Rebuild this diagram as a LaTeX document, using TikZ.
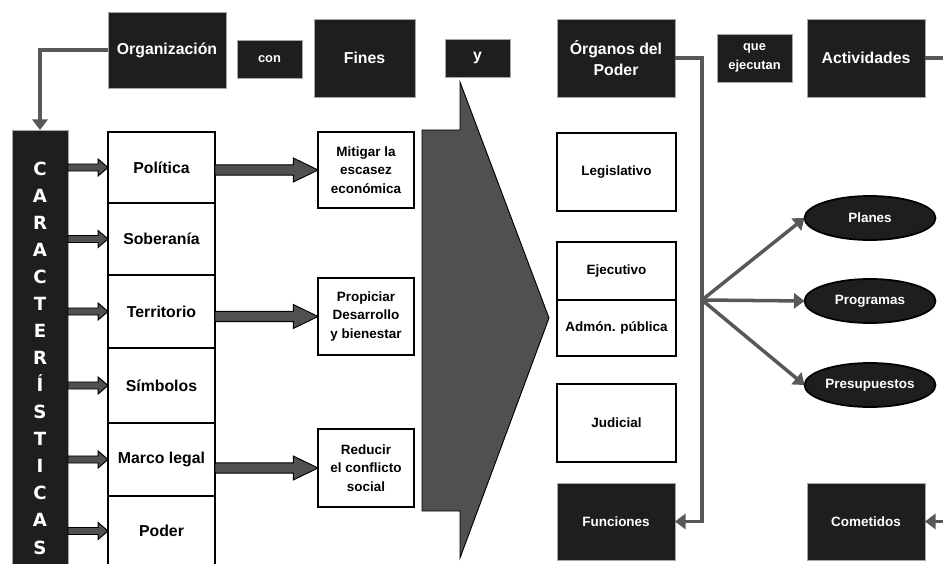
\documentclass[tikz,border=0pt]{standalone}
\usepackage{fontspec}
\setmainfont{Liberation Sans}
\newfontfamily\carfont{DejaVu Sans}
\usetikzlibrary{arrows.meta,shapes.geometric,calc}
\definecolor{boxblack}{RGB}{30,30,30}
\definecolor{linegray}{RGB}{88,88,88}
\definecolor{arrgray}{RGB}{80,80,80}
\begin{document}
\begin{tikzpicture}[x=0.03cm,y=-0.03cm,
  every node/.style={inner sep=0pt, outer sep=0pt, align=center, font=\bfseries\fontsize{11.5}{16}\selectfont},
  bigfont/.style={font=\bfseries\fontsize{13.5}{18}\selectfont},
  smallfont/.style={font=\bfseries\fontsize{11}{16}\selectfont},
  darkbox/.style={fill=boxblack, draw=gray!70, line width=0.8pt, text=white},
  litebox/.style={fill=white, draw=black, line width=1.6pt},
  goalbox/.style={fill=white, draw=black, line width=2.2pt},
  oval/.style={ellipse, fill=boxblack, draw=black, line width=1.5pt, text=white, minimum width=3.93cm, minimum height=1.32cm},
  link/.style={draw=linegray, line width=3pt, -{Triangle[width=13pt,length=9pt]}},
  blockarrow/.style n args={3}{draw=black, fill=arrgray, line width=0.8pt,
    to path={let \p1=(\tikztostart), \p2=(\tikztotarget) in
      (\x1,\y1+#1) -- (\x2-#3,\y1+#1) -- (\x2-#3,\y1+#2) -- (\x2,\y1)
      -- (\x2-#3,\y1-#2) -- (\x2-#3,\y1-#1) -- (\x1,\y1-#1) -- cycle}},
  smallarrow/.style={blockarrow={3pt}{7.3pt}{8.5pt}},
  bigarrow/.style={blockarrow={4.3pt}{10.2pt}{21pt}}]
\useasboundingbox (0,0) rectangle (943,564);
\node[darkbox, bigfont, minimum width=3.54cm, minimum height=2.28cm] (org) at (167,50) {Organización};
\node[darkbox, smallfont, minimum width=1.95cm, minimum height=1.14cm] (con) at (269.5,59) {con};
\node[darkbox, bigfont, minimum width=3.03cm, minimum height=2.34cm] (fines) at (364.5,58) {Fines};
\node[darkbox, bigfont, minimum width=1.95cm, minimum height=1.14cm] (yy) at (477.5,58) {y};
\node[darkbox, bigfont, minimum width=3.54cm, minimum height=2.34cm] (organos) at (616,58) {Órganos del\\Poder};
\node[darkbox, smallfont, minimum width=2.25cm, minimum height=1.44cm] (que) at (754.5,58) {que\\ejecutan};
\node[darkbox, bigfont, minimum width=3.54cm, minimum height=2.34cm] (act) at (866,58) {Actividades};
\node[darkbox, minimum width=1.68cm, minimum height=13.68cm, font=\carfont\bfseries\fontsize{15.5}{23.1}\selectfont] (car) at (40,358) {C\\A\\R\\A\\C\\T\\E\\R\\Í\\S\\T\\I\\C\\A\\S};
\node[litebox, bigfont, minimum width=3.21cm, minimum height=2.13cm] (pol) at (161.5,167.5) {Política};
\node[litebox, bigfont, minimum width=3.21cm, minimum height=2.16cm] (sob) at (161.5,239) {Soberanía};
\node[litebox, bigfont, minimum width=3.21cm, minimum height=2.19cm] (ter) at (161.5,311.5) {Territorio};
\node[litebox, bigfont, minimum width=3.21cm, minimum height=2.25cm] (sim) at (161.5,385.5) {Símbolos};
\node[litebox, bigfont, minimum width=3.21cm, minimum height=2.19cm] (mar) at (161.5,459.5) {Marco legal};
\node[litebox, bigfont, minimum width=3.21cm, minimum height=2.1cm] (pod) at (161.5,531) {Poder};
\node[goalbox, minimum width=2.88cm, minimum height=2.28cm] (mit) at (366,170) {Mitigar la\\escasez\\económica};
\node[goalbox, minimum width=2.88cm, minimum height=2.31cm] (pro) at (366,316.5) {Propiciar\\Desarrollo\\y bienestar};
\node[goalbox, minimum width=2.88cm, minimum height=2.34cm] (red) at (366,468) {Reducir\\el conflicto\\social};
\node[litebox, minimum width=3.57cm, minimum height=2.34cm] (leg) at (616.5,172) {Legislativo};
\node[litebox, minimum width=3.57cm, minimum height=1.74cm] (eje) at (616.5,271) {Ejecutivo};
\node[litebox, minimum width=3.57cm, minimum height=1.68cm] (adm) at (616.5,328) {Admón. pública};
\node[litebox, minimum width=3.57cm, minimum height=2.34cm] (jud) at (616.5,423) {Judicial};
\node[darkbox, minimum width=3.54cm, minimum height=2.31cm] (fun) at (616,521.5) {Funciones};
\node[darkbox, minimum width=3.54cm, minimum height=2.31cm] (com) at (866,521.5) {Cometidos};
\node[oval] (planes) at (870,218) {Planes};
\node[oval] (prog) at (870,301) {Programas};
\node[oval] (pres) at (870,385) {Presupuestos};
\coordinate (hub) at (702,300);
\draw[fill=arrgray, line width=0.8pt] (422,130) -- (460,130) -- (460,82) -- (549,318) -- (460,558) -- (460,511) -- (422,511) -- cycle;
\draw[link] (org.west) -| (car.north);
\draw[link] (organos.east) -| (hub) |- (fun.east);
\draw[link] (hub) -- (planes.west);
\draw[link] (hub) -- (prog.west);
\draw[link] (hub) -- (pres.west);
\draw[link] (act.east) -- ++(40,0) |- (com.east);
\draw[smallarrow] (car.east |- pol.west) to (pol.west);
\draw[smallarrow] (car.east |- sob.west) to (sob.west);
\draw[smallarrow] (car.east |- ter.west) to (ter.west);
\draw[smallarrow] (car.east |- sim.west) to (sim.west);
\draw[smallarrow] (car.east |- mar.west) to (mar.west);
\draw[smallarrow] (car.east |- pod.west) to (pod.west);
\draw[bigarrow] (pol.east |- mit.west) to (mit.west);
\draw[bigarrow] (ter.east |- pro.west) to (pro.west);
\draw[bigarrow] (mar.east |- red.west) to (red.west);
\end{tikzpicture}
\end{document}
